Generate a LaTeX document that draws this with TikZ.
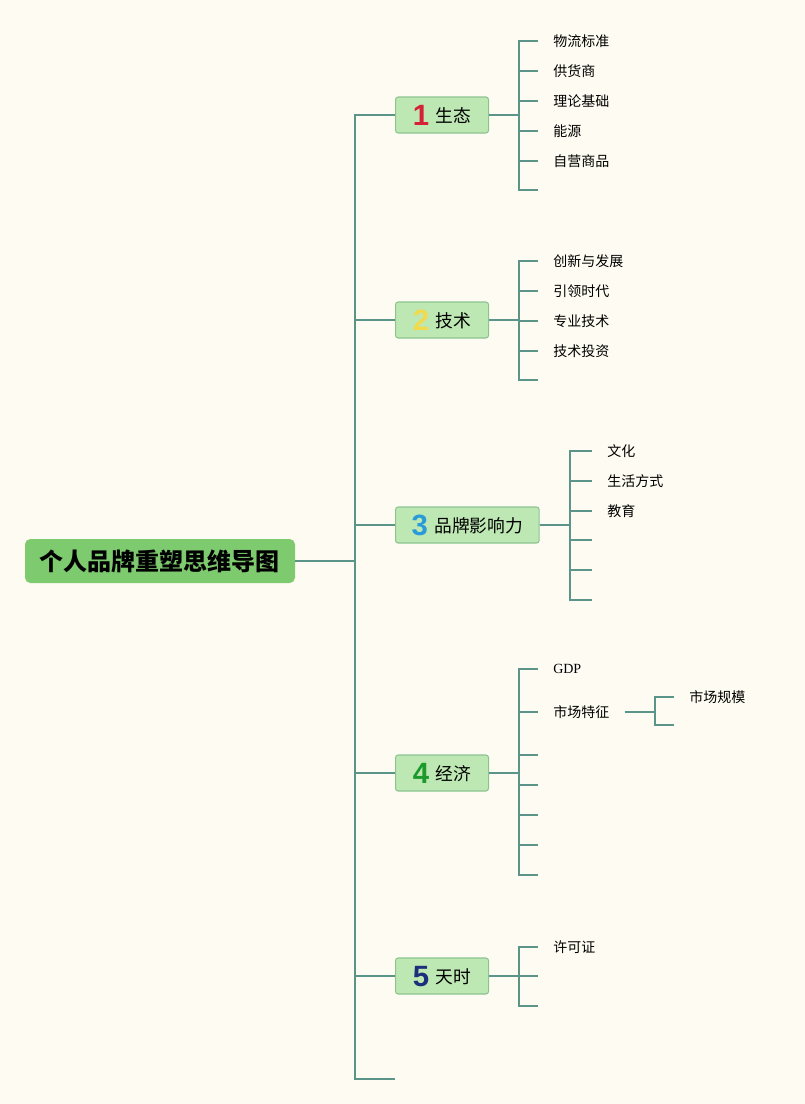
\documentclass[tikz,border=0pt]{standalone}
\usepackage{fontspec}
\usepackage{xcolor}
\setmainfont{Liberation Serif}
\newfontfamily\cjk{Noto Sans CJK SC}
\newfontfamily\digitfont{Liberation Sans}

\definecolor{bgc}{HTML}{FEFCF2}
\definecolor{rootc}{HTML}{7ECB6F}
\definecolor{topicc}{HTML}{BDE8B3}
\definecolor{topicb}{HTML}{8CC490}
\definecolor{linkc}{HTML}{5B9489}
\definecolor{numa}{HTML}{D42039}
\definecolor{numb}{HTML}{F3D94C}
\definecolor{numc}{HTML}{2A9AD8}
\definecolor{numd}{HTML}{1C9A2C}
\definecolor{nume}{HTML}{1D2F7A}

\newcommand{\badge}[2]{\raisebox{-2.25pt}{\digitfont\bfseries\fontsize{22}{22}\selectfont\color{#1}#2}\hspace{5pt}}

\begin{document}
\begin{tikzpicture}[x=0.75pt,y=-0.75pt,
  link/.style={draw=linkc, line width=1.5pt},
  rootbox/.style={fill=rootc, rounded corners=4pt, minimum width=202.5pt, minimum height=33pt,
    font=\cjk\bfseries\fontsize{18}{21}\selectfont},
  topic/.style={anchor=west, fill=topicc, draw=topicb, line width=0.8pt, rounded corners=2pt,
    minimum width=69.75pt, minimum height=27pt, text height=13pt, text depth=2pt,
    inner xsep=12pt, inner ysep=0pt, font=\cjk\fontsize{13.3}{15}\selectfont},
  leaf/.style={anchor=west, inner xsep=11.25pt, inner ysep=0pt, font=\cjk\fontsize{10.5}{12}\selectfont}]

  % Background and page size
  \path[use as bounding box, fill=bgc] (0,0) rectangle (805,1104);

  % Central topic and trunk
  \node[rootbox] (root) at (160,561) {个人品牌重塑思维导图};
  \coordinate (tk) at (355,561);
  \draw[link] (root.east) -- (tk);

  % Main topics
  \node[topic] (t1) at (395,115) {\badge{numa}{1}生态};
  \node[topic] (t2) at (395,320) {\badge{numb}{2}技术};
  \node[topic] (t3) at (395,525) {\badge{numc}{3}品牌影响力};
  \node[topic] (t4) at (395,773) {\badge{numd}{4}经济};
  \node[topic] (t5) at (395,976) {\badge{nume}{5}天时};
  \coordinate (tend) at (395,1079);

  \draw[link] (tk) |- (t1.west);
  \draw[link] (tk) |- (t2.west);
  \draw[link] (tk) |- (t3.west);
  \draw[link] (tk) |- (t4.west);
  \draw[link] (tk) |- (t5.west);
  \draw[link] (tk) |- (tend);

  % Topic 1
  \node[leaf] (a1) at (538,41) {物流标准};
  \node[leaf] (a2) at (538,71) {供货商};
  \node[leaf] (a3) at (538,101) {理论基础};
  \node[leaf] (a4) at (538,131) {能源};
  \node[leaf] (a5) at (538,161) {自营商品};
  \coordinate (a6) at (538,190);
  \foreach \n in {a1,a2,a3,a4,a5,a6}
    \draw[link] (t1.east) -- ++(30,0) |- (\n.west);

  % Topic 2
  \node[leaf] (b1) at (538,261) {创新与发展};
  \node[leaf] (b2) at (538,291) {引领时代};
  \node[leaf] (b3) at (538,321) {专业技术};
  \node[leaf] (b4) at (538,351) {技术投资};
  \coordinate (b5) at (538,380);
  \foreach \n in {b1,b2,b3,b4,b5}
    \draw[link] (t2.east) -- ++(30,0) |- (\n.west);

  % Topic 3
  \node[leaf] (c1) at (592,451) {文化};
  \node[leaf] (c2) at (592,481) {生活方式};
  \node[leaf] (c3) at (592,511) {教育};
  \coordinate (c4) at (592,540);
  \coordinate (c5) at (592,570);
  \coordinate (c6) at (592,600);
  \foreach \n in {c1,c2,c3,c4,c5,c6}
    \draw[link] (t3.east) -- ++(30,0) |- (\n.west);

  % Topic 4
  \node[leaf, font=\rmfamily\fontsize{10.5}{12}\selectfont] (d1) at (538,669) {GDP};
  \node[leaf] (d2) at (538,712) {市场特征};
  \coordinate (d3) at (538,755);
  \coordinate (d4) at (538,785);
  \coordinate (d5) at (538,815);
  \coordinate (d6) at (538,845);
  \coordinate (d7) at (538,875);
  \foreach \n in {d1,d2,d3,d4,d5,d6,d7}
    \draw[link] (t4.east) -- ++(30,0) |- (\n.west);

  \node[leaf] (e1) at (674,697) {市场规模};
  \coordinate (e2) at (674,725);
  \draw[link] (d2.east) -- ++(30,0) |- (e1.west);
  \draw[link] (d2.east) -- ++(30,0) |- (e2);

  % Topic 5
  \node[leaf] (f1) at (538,947) {许可证};
  \coordinate (f2) at (538,976);
  \coordinate (f3) at (538,1006);
  \foreach \n in {f1,f2,f3}
    \draw[link] (t5.east) -- ++(30,0) |- (\n.west);
\end{tikzpicture}
\end{document}
